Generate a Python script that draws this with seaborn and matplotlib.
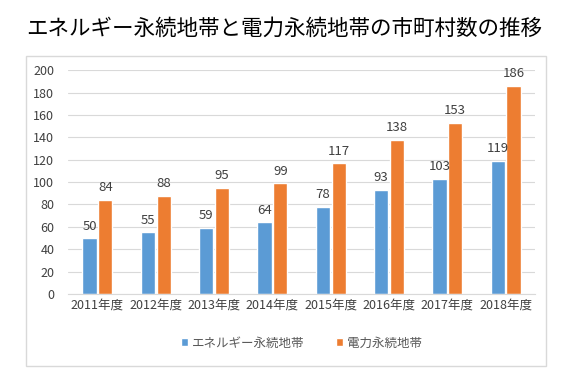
import pandas as pd
import matplotlib
matplotlib.use("Agg")
import matplotlib.pyplot as plt
import seaborn as sns
from matplotlib.patches import Rectangle

# データ
years = ["2011年度", "2012年度", "2013年度", "2014年度", "2015年度", "2016年度", "2017年度", "2018年度"]
energy = [50, 55, 59, 64, 78, 93, 103, 119]
power = [84, 88, 95, 99, 117, 138, 153, 186]
series_names = ["エネルギー永続地帯", "電力永続地帯"]
colors = ["#5B9BD5", "#ED7D31"]

df = pd.DataFrame({
    "year": years * 2,
    "value": energy + power,
    "series": [series_names[0]] * len(years) + [series_names[1]] * len(years),
})

sns.set_style("white")
plt.rcParams["font.family"] = ["Noto Sans CJK JP", "DejaVu Sans"]

fig = plt.figure(figsize=(5.69, 3.77), dpi=100)
ax = fig.add_axes([0.12, 0.22, 0.82, 0.594])

sns.barplot(data=df, x="year", y="value", hue="series", palette=colors,
            saturation=1, width=0.54, gap=0.1, ax=ax, legend=True)

# 値ラベル
for cont in ax.containers:
    ax.bar_label(cont, padding=4, fontsize=9.5, color="#404040")

ax.set_ylim(0, 200)
ax.set_yticks(range(0, 201, 20))
ax.yaxis.grid(True, color="#D9D9D9", linewidth=0.8)
ax.set_axisbelow(True)
ax.set_xlabel("")
ax.set_ylabel("")
for s in ["top", "right", "left"]:
    ax.spines[s].set_visible(False)
ax.spines["bottom"].set_color("#D9D9D9")
ax.tick_params(axis="both", length=0, labelsize=9, colors="#404040")
ax.tick_params(axis="y", pad=10)

handles, labels = ax.get_legend_handles_labels()
ax.legend(handles, labels, loc="center", bbox_to_anchor=(0.5, -0.22),
          ncol=2, frameon=False, fontsize=9, labelcolor="#595959",
          handlelength=0.6, handleheight=0.6, handletextpad=0.3, columnspacing=2.5)

# 外枠
fig.patches.append(Rectangle((26 / 569, 1 - 366 / 377), 520 / 569, 310 / 377,
                             transform=fig.transFigure, fill=False,
                             edgecolor="#D9D9D9", linewidth=1))

fig.text(0.5, 0.925, "エネルギー永続地帯と電力永続地帯の市町村数の推移",
         ha="center", va="center", fontsize=15.5, color="black")

fig.savefig("out.png", dpi=100)
